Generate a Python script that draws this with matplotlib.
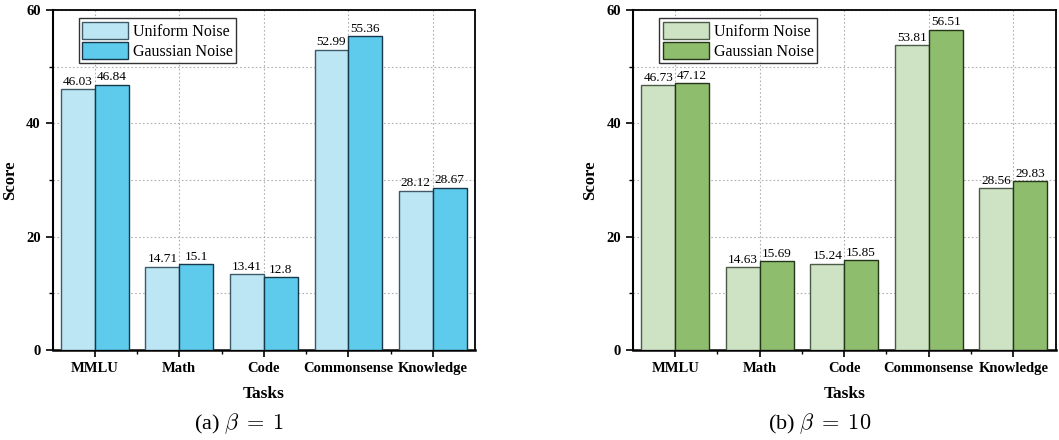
import matplotlib
matplotlib.use("Agg")
import matplotlib.pyplot as plt
import numpy as np

plt.rcParams['font.family'] = ['Liberation Serif', 'DejaVu Serif']
plt.rcParams['mathtext.fontset'] = 'cm'

tasks = ["MMLU", "Math", "Code", "Commonsense", "Knowledge"]

# beta = 1
uniform_b1 = [46.03, 14.71, 13.41, 52.99, 28.12]
gaussian_b1 = [46.84, 15.1, 12.8, 55.36, 28.67]

# beta = 10
uniform_b10 = [46.73, 14.63, 15.24, 53.81, 28.56]
gaussian_b10 = [47.12, 15.69, 15.85, 56.51, 29.83]

panels = [
    (uniform_b1, gaussian_b1, "#bde6f5", "#5ecaec", "#3d5a66", "#16384a", r"(a) $\beta\;=\;1$"),
    (uniform_b10, gaussian_b10, "#cde3c3", "#8fbd6e", "#4d5a47", "#24361a", r"(b) $\beta\;=\;10$"),
]

fig = plt.figure(figsize=(10.59, 4.40), dpi=100)
lefts = [0.0496, 0.5977]

x = np.arange(len(tasks))
w = 0.4

for (uni, gau, c1, c2, e1, e2, caption), left in zip(panels, lefts):
    ax = fig.add_axes([left, 0.2045, 0.399, 0.7727])
    b1 = ax.bar(x - w / 2, uni, w, color=c1, edgecolor=e1, linewidth=1.0,
                label="Uniform Noise", zorder=3)
    b2 = ax.bar(x + w / 2, gau, w, color=c2, edgecolor=e2, linewidth=1.0,
                label="Gaussian Noise", zorder=3)
    ax.bar_label(b1, labels=[str(v) for v in uni], padding=1, fontsize=9.5)
    ax.bar_label(b2, labels=[str(v) for v in gau], padding=1, fontsize=9.5)

    ax.set_xlim(-0.5, 4.5)
    ax.set_ylim(0, 60)
    ax.set_xticks(x)
    ax.set_xticklabels(tasks, fontweight='bold', fontsize=10.5)
    ax.set_xticks(x[:-1] + 0.5, minor=True)
    ax.set_yticks([0, 20, 40, 60])
    ax.set_yticklabels(["0", "20", "40", "60"], fontweight='bold', fontsize=10.5)
    ax.set_yticks([10, 30, 50], minor=True)
    ax.tick_params(which='major', length=5, width=1.2, direction='out')
    ax.tick_params(which='minor', length=3, width=1.0, direction='out')

    ax.grid(True, which='both', axis='y', color='#b0b0b0', linestyle=(0, (1.5, 2)),
            linewidth=0.8, zorder=0)
    ax.grid(True, which='major', axis='x', color='#b0b0b0', linestyle=(0, (1.5, 2)),
            linewidth=0.8, zorder=0)
    ax.set_axisbelow(True)

    for s in ax.spines.values():
        s.set_linewidth(1.3)
    ax.spines['bottom'].set_linewidth(1.8)
    ax.spines['left'].set_linewidth(1.5)

    ax.set_ylabel("Score", fontweight='bold', fontsize=12, labelpad=6)
    ax.set_xlabel("Tasks", fontweight='bold', fontsize=12.5, labelpad=8)

    leg = ax.legend(loc='upper left', bbox_to_anchor=(0.055, 0.985), fontsize=11.5,
                    frameon=True, fancybox=False, handlelength=2.9, handleheight=1.3,
                    handletextpad=0.3, borderpad=0.2, labelspacing=0.15,
                    borderaxespad=0.2)
    leg.get_frame().set_edgecolor('black')
    leg.get_frame().set_linewidth(1.0)

    ax.text(0.441, -0.218, caption, transform=ax.transAxes, ha='center', va='center',
            fontsize=16)

fig.savefig("out.png", dpi=100)
